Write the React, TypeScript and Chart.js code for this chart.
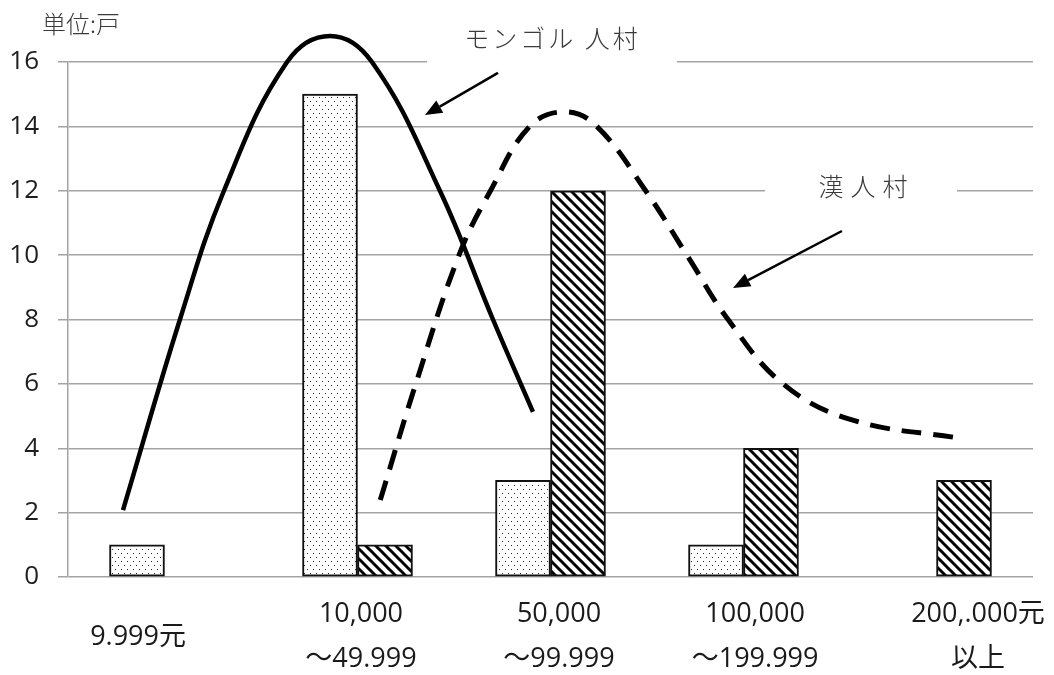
import { useEffect, useRef } from "react";
import { Chart, registerables } from "chart.js";

Chart.register(...registerables);

// Income brackets (x categories), each entry is the lines of its label
const incomeBrackets: string[][] = [
  ["9.999元"],
  ["10,000", "～49.999"],
  ["50,000", "～99.999"],
  ["100,000", "～199.999"],
  ["200,.000元", "以上"],
];

// Households per bracket
const mongolHouseholds: (number | null)[] = [1, 15, 3, 1, null];
const hanHouseholds: (number | null)[] = [null, 1, 12, 4, 3];

// Y axis ticks (households)
const yTickValues = [0, 2, 4, 6, 8, 10, 12, 14, 16];

// Hand-drawn distribution curves; x is in category units (0 = first bracket)
const mongolCurveX = [-0.215, 0.08, 0.308, 0.635, 0.858, 1.075, 1.427, 1.702, 1.909];
const mongolCurveY = [2.08, 8, 12, 16, 16.81, 16, 12, 8, 5.13];
const hanCurveX = [1.118, 1.302, 1.526, 1.689, 1.892, 2.075, 2.24, 2.493, 2.707, 2.92, 3.205, 3.562, 4.122];
const hanCurveY = [2.39, 6, 10, 12, 14, 14.45, 14, 12, 10, 8, 6, 4.88, 4.31];

// Callout texts
const unitLabel = "単位:戸";
const mongolLabel = "モンゴル 人村";
const hanLabel = "漢人村";

const NUM_FONT = "'Open Sans', 'Noto Sans CJK JP', sans-serif";
const JP_FONT = "'Noto Sans CJK JP', sans-serif";

function makeDotPattern(): CanvasPattern | string {
  const c = document.createElement("canvas");
  c.width = 6;
  c.height = 8;
  const g = c.getContext("2d");
  if (!g) return "#eee";
  g.fillStyle = "#ffffff";
  g.fillRect(0, 0, 6, 8);
  g.fillStyle = "#2a2a2a";
  g.fillRect(1, 1, 1, 1);
  g.fillRect(4, 5, 1, 1);
  return g.createPattern(c, "repeat") || "#eee";
}

function makeHatchPattern(): CanvasPattern | string {
  const s = 10;
  const c = document.createElement("canvas");
  c.width = s;
  c.height = s;
  const g = c.getContext("2d");
  if (!g) return "#888";
  g.fillStyle = "#ffffff";
  g.fillRect(0, 0, s, s);
  g.strokeStyle = "#000000";
  g.lineWidth = 3;
  for (const k of [-s, 0, s]) {
    g.beginPath();
    g.moveTo(k - 2, -2);
    g.lineTo(k + s + 2, s + 2);
    g.stroke();
  }
  return g.createPattern(c, "repeat") || "#888";
}

function toPoints(xs: number[], ys: number[]) {
  return xs.map((x, i) => ({ x, y: ys[i] }));
}

// Callout geometry in data units (x: category units, y: households)
const callouts = [
  {
    text: mongolLabel,
    at: [2.003, 16.73],
    box: [1.36, 17.24, 2.655, 15.75],
    arrow: [1.728, 15.66, 1.35, 14.35],
    spacing: 3,
  },
  {
    text: hanLabel,
    at: [3.619, 12.12],
    box: [3.111, 12.64, 4.106, 11.56],
    arrow: [3.51, 10.75, 2.946, 8.98],
    spacing: 7,
  },
];

// Horizontal nudges of the bracket labels, in category widths
const labelShift = [-0.137, 0.018, 0.044, 0.06, 0.215];

const calloutPlugin = {
  id: "callouts",
  beforeDatasetsDraw(chart: any) {
    const { ctx } = chart;
    const xs = chart.scales.x2;
    const ys = chart.scales.y;
    ctx.save();
    ctx.fillStyle = "#ffffff";
    for (const c of callouts) {
      const x0 = xs.getPixelForValue(c.box[0]);
      const y0 = ys.getPixelForValue(c.box[1]);
      const x1 = xs.getPixelForValue(c.box[2]);
      const y1 = ys.getPixelForValue(c.box[3]);
      ctx.fillRect(x0, y0, x1 - x0, y1 - y0);
    }
    ctx.restore();
  },
  afterDatasetsDraw(chart: any) {
    const { ctx, chartArea } = chart;
    const xs = chart.scales.x2;
    const ys = chart.scales.y;
    const xc = chart.scales.x;
    ctx.save();

    // callout texts and arrows
    for (const c of callouts) {
      ctx.font = `300 25px ${JP_FONT}`;
      (ctx as any).letterSpacing = `${c.spacing}px`;
      ctx.fillStyle = "#3a3a3a";
      ctx.textAlign = "center";
      ctx.textBaseline = "middle";
      ctx.fillText(c.text, xs.getPixelForValue(c.at[0]) + c.spacing / 2, ys.getPixelForValue(c.at[1]));
      (ctx as any).letterSpacing = "0px";

      const tx = xs.getPixelForValue(c.arrow[0]);
      const ty = ys.getPixelForValue(c.arrow[1]);
      const hx = xs.getPixelForValue(c.arrow[2]);
      const hy = ys.getPixelForValue(c.arrow[3]);
      const ang = Math.atan2(hy - ty, hx - tx);
      const headLen = 17;
      const headHalf = 7;
      const bx = hx - headLen * Math.cos(ang);
      const by = hy - headLen * Math.sin(ang);
      ctx.strokeStyle = "#000";
      ctx.lineWidth = 2.5;
      ctx.beginPath();
      ctx.moveTo(tx, ty);
      ctx.lineTo(bx, by);
      ctx.stroke();
      ctx.fillStyle = "#000";
      ctx.beginPath();
      ctx.moveTo(hx, hy);
      ctx.lineTo(bx + headHalf * Math.sin(ang), by - headHalf * Math.cos(ang));
      ctx.lineTo(bx - headHalf * Math.sin(ang), by + headHalf * Math.cos(ang));
      ctx.closePath();
      ctx.fill();
    }

    // unit caption
    ctx.font = `300 24px ${JP_FONT}`;
    ctx.fillStyle = "#3a3a3a";
    ctx.textAlign = "left";
    ctx.textBaseline = "middle";
    ctx.fillText(unitLabel, chartArea.left - 26, chartArea.top - 38);

    // bracket labels under the axis
    ctx.font = `27px ${NUM_FONT}`;
    ctx.fillStyle = "#1a1a1a";
    ctx.textAlign = "center";
    const catW = xc.width / incomeBrackets.length;
    const lineH = 45;
    incomeBrackets.forEach((lines, i) => {
      const cx = xc.getPixelForValue(i) + labelShift[i] * catW;
      const yStart = chartArea.bottom + 60 - ((lines.length - 1) * lineH) / 2;
      lines.forEach((t, j) => ctx.fillText(t, cx, yStart + j * lineH));
    });

    ctx.restore();
  },
};

export default function App() {
  const canvasRef = useRef<HTMLCanvasElement | null>(null);

  useEffect(() => {
    const canvas = canvasRef.current;
    if (!canvas) return;
    const dots = makeDotPattern();
    const hatch = makeHatchPattern();

    const chart = new Chart(canvas, {
      type: "bar",
      data: {
        labels: incomeBrackets.map((l) => l.join(" ")),
        datasets: [
          {
            type: "line",
            label: "モンゴル人村 分布",
            data: toPoints(mongolCurveX, mongolCurveY) as any,
            xAxisID: "x2",
            yAxisID: "y",
            borderColor: "#000",
            borderWidth: 4.5,
            pointRadius: 0,
            tension: 0.4,
            capBezierPoints: false,
            fill: false,
            clip: false as any,
            order: 0,
          } as any,
          {
            type: "line",
            label: "漢人村 分布",
            data: toPoints(hanCurveX, hanCurveY) as any,
            xAxisID: "x2",
            yAxisID: "y",
            borderColor: "#000",
            borderWidth: 5,
            borderDash: [20, 12],
            borderCapStyle: "butt",
            pointRadius: 0,
            tension: 0.4,
            capBezierPoints: false,
            fill: false,
            clip: false as any,
            order: 0,
          } as any,
          {
            type: "bar",
            label: "モンゴル人村",
            data: mongolHouseholds,
            xAxisID: "x",
            backgroundColor: dots as any,
            borderColor: "#111",
            borderWidth: 2,
            borderSkipped: false,
            barThickness: 55,
            order: 1,
          },
          {
            type: "bar",
            label: "漢人村",
            data: hanHouseholds,
            xAxisID: "x",
            backgroundColor: hatch as any,
            borderColor: "#111",
            borderWidth: 2,
            borderSkipped: false,
            barThickness: 55,
            order: 1,
          },
        ],
      },
      options: {
        responsive: false,
        animation: false,
        devicePixelRatio: 1,
        layout: { padding: { top: 62, right: 21, left: 0, bottom: 0 } },
        plugins: {
          legend: { display: false },
          tooltip: { enabled: false },
          title: { display: false },
        },
        scales: {
          x: {
            type: "category",
            offset: true,
            grid: { display: false, drawTicks: false },
            border: { display: false },
            ticks: { display: false },
            afterFit: (scale: any) => {
              scale.height = 98;
            },
          },
          x2: {
            type: "linear",
            display: false,
            offset: false,
            min: -0.5,
            max: 4.5,
          },
          y: {
            type: "linear",
            min: 0,
            max: 16,
            afterBuildTicks: (scale: any) => {
              scale.ticks = yTickValues.map((v) => ({ value: v }));
            },
            grid: {
              color: "#a3a3a3",
              lineWidth: 1.5,
              drawTicks: true,
              tickLength: 10,
            },
            border: { display: true, color: "#a3a3a3", width: 1.5 },
            ticks: {
              padding: 19,
              color: "#1e1e1e",
              font: { family: NUM_FONT, size: 26 },
            },
            afterFit: (scale: any) => {
              scale.width = 68;
            },
          },
        },
      },
      plugins: [calloutPlugin],
    });

    return () => chart.destroy();
  }, []);

  return (
    <div style={{ position: "fixed", left: 0, top: 0, width: 1054, height: 675, background: "#fff" }}>
      <canvas ref={canvasRef} width={1054} height={675} style={{ display: "block" }} />
    </div>
  );
}
